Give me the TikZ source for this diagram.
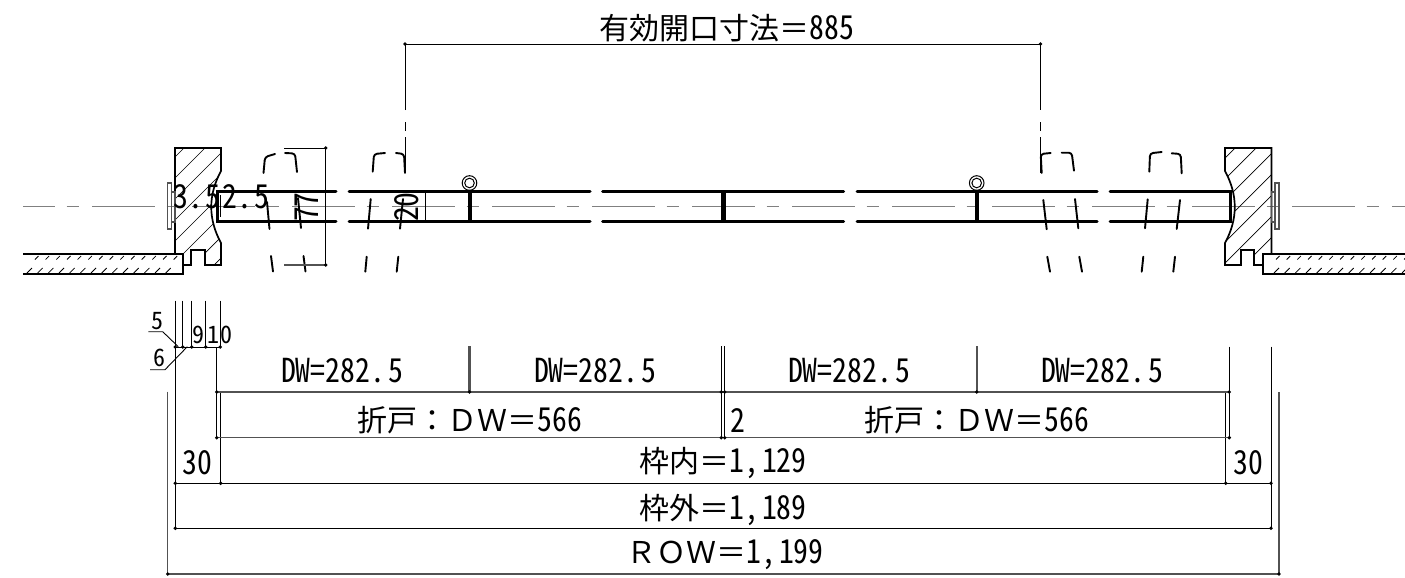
\documentclass[tikz,border=0pt]{standalone}
\usepackage{fontspec}
\setmainfont{Noto Sans CJK JP}
\newfontfamily\jpf{Noto Sans CJK JP}
\newfontfamily\hwf[FakeStretch=0.9,RawFeature={+hwid}]{Noto Sans CJK JP}
\newfontfamily\hws[FakeStretch=1.0,RawFeature={+hwid}]{Noto Sans CJK JP}
\newcommand\J[1]{{\fontsize{30}{30}\jpf #1}}
\newcommand\D[1]{{\fontsize{33}{33}\hwf #1}}
\newcommand\Sm[1]{{\fontsize{24}{24}\hws #1}}
\newcommand\pg{\kern 3pt\relax}
\definecolor{dgray}{gray}{0.32}
\definecolor{mgray}{gray}{0.5}
\tikzset{
  txt/.style={inner sep=0pt,outer sep=0pt,anchor=center,text=black},
  thin1/.style={draw=black,line width=0.9pt},
  dimg/.style={draw=dgray,line width=1.3pt},
  thickg/.style={draw=dgray,line width=2.4pt},
  frameline/.style={draw=black,line width=1.7pt,line join=miter},
  wall/.style={draw=black,line width=2.2pt,line join=miter},
  hatch/.style={draw=black,line width=0.7pt},
  tick/.style={draw=black,line width=0.8pt},
  door/.style={draw=black,line width=3pt,line cap=round},
  mull/.style={draw=black,line cap=butt},
  brk/.style={draw=black,line width=1.9pt,line cap=round,line join=round},
  center line/.style={draw=mgray,line width=1.3pt,dash pattern=on 62.5pt off 12pt on 12.5pt off 13pt,dash phase=31pt},
  jdot/.style={fill=black}
}
\newcommand\jd[1]{\fill[jdot] (#1) circle (1.9);}
\begin{document}
\begin{tikzpicture}[x=1pt,y=-1pt]
\useasboundingbox (0,0) rectangle (1405,578);
\fill[white] (0,0) rectangle (1405,578);
% centre line
\path[center line] (23,206.7) -- (1405,206.7);
% left frame hatch
\begin{scope}
\clip (175,148) -- (221,148) -- (221,171) .. controls (208,195) and (208,219) .. (221,243) -- (221,265) -- (205,265) -- (205,250) -- (191,250) -- (191,265) -- (183,265) -- (183,254) -- (175,254) -- cycle;
\foreach \k in {0,...,8}{\draw[hatch] (175,{332+21*\k-175}) -- (265,{332+21*\k-265});}
\end{scope}
\draw[frameline] (175,148) -- (221,148) -- (221,171) .. controls (208,195) and (208,219) .. (221,243) -- (221,265) -- (205,265) -- (205,250) -- (191,250) -- (191,265) -- (183,265) -- (183,254) -- (175,254) -- cycle;
% right frame hatch
\begin{scope}
\clip (1225,148) -- (1271.5,148) -- (1271.5,254) -- (1263,254) -- (1263,265) -- (1254,265) -- (1254,250) -- (1241,250) -- (1241,265) -- (1225,265) -- (1225,243) .. controls (1238,219) and (1238,195) .. (1225,171) -- cycle;
\foreach \k in {0,...,8}{\draw[hatch] (1225,{1383+21*\k-1225}) -- (1325,{1383+21*\k-1325});}
\end{scope}
\draw[frameline] (1225,148) -- (1271.5,148) -- (1271.5,254) -- (1263,254) -- (1263,265) -- (1254,265) -- (1254,250) -- (1241,250) -- (1241,265) -- (1225,265) -- (1225,243) .. controls (1238,219) and (1238,195) .. (1225,171) -- cycle;
% walls
\draw[wall] (23,254) -- (183,254) -- (183,273.7) -- (23,273.7);
\draw[wall] (1405,254) -- (1263,254) -- (1263,273.7) -- (1405,273.7);
\foreach \k in {0,...,13}{
  \draw[tick] ({35+10.67*\k},259.5) -- ({38.5+10.67*\k},256);
  \draw[tick] ({27+10.67*\k},273) -- ({32+10.67*\k},268);
  \draw[tick] ({1276+10.67*\k},259.5) -- ({1279.5+10.67*\k},256);
  \draw[tick] ({1274+10.67*\k},273) -- ({1279+10.67*\k},268);
}
% hinges
\draw[draw=dgray,line width=1.2pt] (167.3,183) rectangle (171.3,229);
\draw[draw=dgray,line width=1.2pt] (171.3,192) rectangle (175,222);
\draw[draw=dgray,line width=1.2pt] (1275,183) rectangle (1279,229);
\draw[draw=dgray,line width=1.2pt] (1271.5,192) rectangle (1275,222);
% door lines
\draw[door] (336,191.7) -- (217,191.7) -- (217,221.3) -- (336,221.3);
\draw[door] (349,191.7) -- (590,191.7); \draw[door] (349,221.3) -- (590,221.3);
\draw[door] (602.5,191.7) -- (843.6,191.7); \draw[door] (602.5,221.3) -- (843.6,221.3);
\draw[door] (857,191.7) -- (1097,191.7); \draw[door] (857,221.3) -- (1097,221.3);
\draw[door] (1110,191.7) -- (1230,191.7) -- (1230,221.3) -- (1110,221.3);
\draw[mull,line width=4pt] (469.5,191.7) -- (469.5,221.3);
\draw[mull,line width=5pt] (723,191.7) -- (723,221.3);
\draw[mull,line width=4pt] (977,191.7) -- (977,221.3);
\draw[black,line width=1pt] (469.5,183) circle (7.3) (469.5,183) circle (4.8);
\draw[black,line width=1pt] (976.7,183) circle (7.3) (976.7,183) circle (4.8);
% breaks
\foreach \a/\b/\c/\d/\e/\f in {263.5/173/265/157/275/154, 285/153/295/153.5/297/172,
  372.7/171.7/374/154/385/153, 396/153/404/154/405/173,
  1041.7/173/1040.7/154/1050.7/153, 1061.7/152.7/1071.7/152.7/1074/170.7,
  1149.3/171.7/1150/153.3/1161.7/152, 1171.7/153.3/1180.7/154/1181.7/173.3}
  {\draw[brk,rounded corners=3pt] (\a,\b) -- (\c,\d) -- (\e,\f);}
\foreach \a/\b/\c/\d in {267/202/269.5/229, 298/198/301/228, 271/256/273/271.5, 303.5/256/305.5/271.5,
  370.7/199/368/228.7, 403/199/400/228.7, 366.7/256.7/365.3/271.7, 398.3/256.7/396.7/271.7,
  1043.3/200/1046.7/229.3, 1075/199/1078.3/228.3, 1047.3/256.7/1050/271.7, 1079.3/256.7/1082/271.7,
  1147.7/199.3/1145/228.3, 1180/200/1176.7/229, 1143.3/256.7/1141.7/271.7, 1175/256.7/1173.3/271.7}
  {\draw[brk] (\a,\b) -- (\c,\d);}
% 77 and 20 dims
\draw[thin1] (284,148) -- (325.7,148) -- (325.7,265);
\draw[dimg] (284,265) -- (325.7,265);
\jd{325.7,148} \jd{325.7,265}
\draw[thin1] (425.5,192) -- (425.5,221);
\draw[thin1] (220.5,195) -- (220.5,217);
\node[txt,rotate=90] (t77) at (307,207) {\D{77}};
\node[txt,rotate=90] (t20) at (407,207) {\D{20}};
\node[txt] (t35) at (197,196.5) {\D{3.\pg 5}};
\node[txt] (t25) at (246,196.5) {\D{2.\pg 5}};
% top dim
\node[txt] (title) at (727,28) {\J{有効開口寸法＝}\D{885}};
\draw[thin1] (405,137) -- (405,173);
\draw[thin1] (1040.5,137) -- (1040.5,173);
\draw[thin1] (405,122) -- (405,131);
\draw[thin1] (1040.5,122) -- (1040.5,131);
\draw[thin1] (405,110) -- (405,44) -- (1040.5,44) -- (1040.5,110);
\jd{405,44} \jd{1040.5,44}
% small dims
\foreach \x in {175.3,182.7,191.7,205.7,220.3}{\draw[thin1] (\x,300.7) -- (\x,347); \jd{\x,347}}
\draw[thin1] (175.3,347) -- (220.3,347);
\draw[thin1] (148.3,331.7) -- (162.7,331.7) -- (178.3,346.7);
\draw[thin1] (150,369.7) -- (165,369.7) -- (187.3,346.7);
\node[txt] (s5) at (157.7,320.7) {\Sm{5}};
\node[txt] (s6) at (159,357.7) {\Sm{6}};
\node[txt] (s9) at (198.3,335) {\Sm{9}};
\node[txt] (s10) at (220,335) {\Sm{1\kern 1.5pt 0}};
% bottom dims
\draw[thin1] (175.3,347) -- (175.3,528.3);
\draw[thin1] (1271,346.7) -- (1271,528.3);
\draw[thin1] (220.7,392) -- (220.7,483.3);
\draw[thin1] (216.7,347) -- (216.7,437.7);
\draw[thin1] (1225.7,392) -- (1225.7,483.3);
\draw[thin1] (1229.3,346.7) -- (1229.3,437.7);
\draw[dimg] (216.7,392) -- (1229.3,392);
\draw[dimg] (216.7,437.7) -- (1229.3,437.7);
\draw[thin1] (175.3,483.3) -- (1271,483.3);
\draw[thin1] (175.3,528.3) -- (1271,528.3);
\draw[dimg] (167.7,391.7) -- (167.7,574) -- (1279,574) -- (1279,391.7);
\draw[thickg] (469.5,346) -- (469.5,392);
\draw[thickg] (976.7,346) -- (976.7,392);
\draw[thin1] (721.3,346) -- (721.3,437.7);
\draw[thin1] (724.7,346) -- (724.7,437.7);
\foreach \p in {216.7,469.5,721.3,724.7,976.7,1229.3}{\jd{\p,392}}
\foreach \p in {216.7,721.3,724.7,1229.3}{\jd{\p,437.7}}
\foreach \p in {175.3,220.7,1225.7,1271}{\jd{\p,483.3}}
\jd{175.3,528.3} \jd{1271,528.3} \jd{167.7,574} \jd{1279,574}
% labels
\node[txt] (dw1) at (342,371) {\D{DW=282.\pg 5}};
\node[txt] (dw2) at (595,371) {\D{DW=282.\pg 5}};
\node[txt] (dw3) at (849,371) {\D{DW=282.\pg 5}};
\node[txt] (dw4) at (1102,371) {\D{DW=282.\pg 5}};
\node[txt] (fd1) at (470,420) {\J{折戸：ＤＷ＝}\D{566}};
\node[txt] (fd2) at (977,420) {\J{折戸：ＤＷ＝}\D{566}};
\node[txt] (two) at (737.7,420) {\D{2}};
\node[txt] (n30a) at (197.5,463) {\D{30}};
\node[txt] (n30b) at (1248,463) {\D{30}};
\node[txt] (wn) at (723,463) {\J{枠内＝}\D{1,\pg 129}};
\node[txt] (wg) at (723,510) {\J{枠外＝}\D{1,\pg 189}};
\node[txt] (row) at (725,555) {\J{ＲＯＷ＝}\D{1,\pg 199}};
\end{tikzpicture}
\end{document}
